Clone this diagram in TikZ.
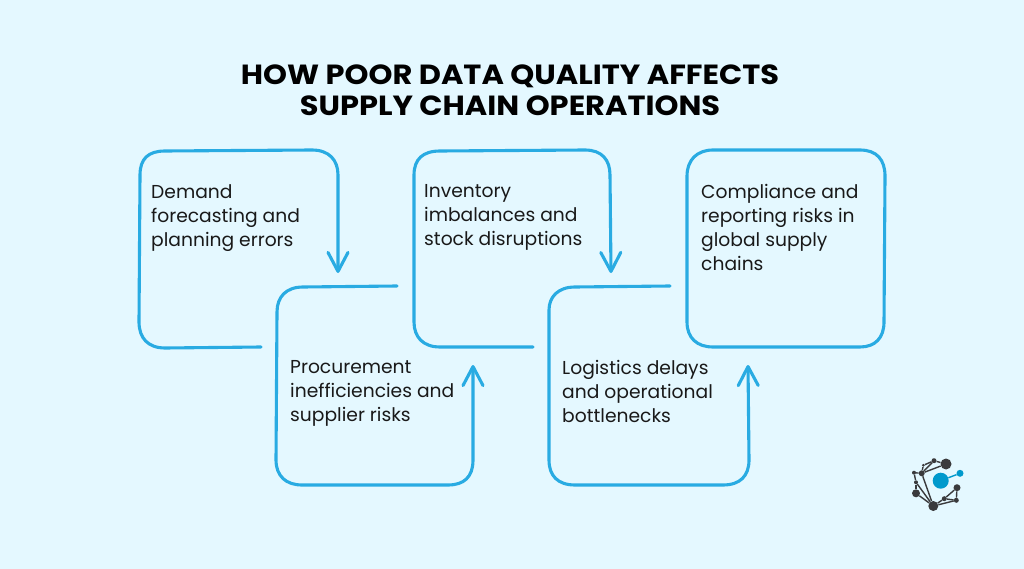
\documentclass[tikz,border=0pt]{standalone}
\usepackage{fontspec}
\setmainfont{Poppins}
\newfontfamily\titlefont[FakeStretch=1.1]{Poppins}
\usepackage{xcolor}
\usetikzlibrary{arrows.meta}
\definecolor{pagebg}{HTML}{E4F8FF}
\definecolor{flowblue}{HTML}{29ABE2}
\definecolor{logoblue}{HTML}{0099CC}
\definecolor{logodark}{HTML}{3A3A3C}
\tikzset{
	flowline/.style={draw=flowblue, line width=3.1pt, line cap=round, line join=round},
	flowarrow/.style={flowline, -{Straight Barb[length=19pt, width=20pt, round]}},
	steptext/.style={anchor=north west, inner sep=0pt, align=left, text=black!90, font=\fontsize{18.7}{24}\selectfont},
	titletext/.style={anchor=center, inner sep=0pt, align=center, text=black, font=\titlefont\bfseries\fontsize{27.7}{31}\selectfont},
	logonode/.style={circle, fill=logodark, inner sep=0pt, minimum size=#1},
	logolink/.style={draw=logodark, line width=1.4pt},
}
\begin{document}
\begin{tikzpicture}[x=1pt, y=-1pt]
		
		\path[fill=pagebg, use as bounding box] (0, 0) rectangle (1024, 569);
		
		\node[titletext] (title) at (510, 90) {HOW POOR DATA QUALITY AFFECTS\\SUPPLY CHAIN OPERATIONS};
		
		\draw[flowarrow] (261, 347) -- (165, 348) .. controls (148, 348) and (139, 338) .. (139, 322) -- (140, 175) .. controls (140, 159) and (148, 151) .. (165, 151) -- (312, 150) .. controls (329, 150) and (338, 160) .. (338, 175) -- (338, 273);
		\draw[flowarrow] (397, 286) -- (303, 287) .. controls (286, 287) and (277, 297) .. (277, 312) -- (276, 460) .. controls (276, 476) and (286, 485) .. (302, 485) -- (448, 485) .. controls (464, 485) and (473, 477) .. (473, 460) -- (473, 365);
		\draw[flowarrow] (533, 347) -- (440, 347) .. controls (423, 347) and (414, 337) .. (414, 322) -- (414, 175) .. controls (414, 159) and (423, 151) .. (440, 151) -- (585, 150) .. controls (602, 150) and (610, 160) .. (610, 175) -- (611, 273);
		\draw[flowarrow] (670, 286) -- (575, 287) .. controls (558, 287) and (549, 297) .. (549, 310) -- (549, 460) .. controls (549, 476) and (558, 485) .. (575, 485) -- (723, 485) .. controls (740, 485) and (749, 476) .. (749, 460) -- (748, 365);
		\draw[flowline] (713, 150) -- (860, 150) .. controls (877, 150) and (885, 160) .. (885, 176) -- (884, 322) .. controls (884, 338) and (875, 347) .. (860, 347) -- (713, 347) .. controls (697, 347) and (687, 338) .. (687, 322) -- (687, 176) .. controls (687, 160) and (697, 150) .. (713, 150) -- cycle;
		
		\node[steptext] (demand) at (151, 184) {Demand\\forecasting and\\planning errors};
		\node[steptext] (procure) at (290, 360) {Procurement\\inefficiencies and\\supplier risks};
		\node[steptext] (stock) at (424, 184) {Inventory\\imbalances and\\stock disruptions};
		\node[steptext] (logistics) at (562, 360) {Logistics delays\\and operational\\bottlenecks};
		\node[steptext] (comply) at (701, 184) {Compliance and\\reporting risks in\\global supply\\chains};
		
		% logo
		\node[logonode=11pt] (la) at (946, 464) {};
		\node[logonode=10pt] (lb) at (933.3, 506) {};
		\node[logonode=8pt] (lc) at (916, 493.3) {};
		\node[logonode=7pt] (ld) at (957, 487.7) {};
		\node[logonode=6pt] (le) at (921.7, 473.3) {};
		\node[logonode=4pt] (lf) at (914, 472.7) {};
		\node[logonode=5pt] (lg) at (934, 460.7) {};
		\node[logonode=3pt] (lh) at (923.3, 465.3) {};
		\node[logonode=4pt] (li) at (916, 482.3) {};
		\node[logonode=5pt] (lj) at (944.3, 498.7) {};
		\node[logonode=5pt] (lk) at (956.3, 500.3) {};
		\foreach \from/\to in {la/lg, lg/le, lg/lh, lh/le, le/lf, le/la, lf/li, li/lb, le/lb, lc/lb, li/lc, lb/lj, lb/lk, lj/lk, lj/ld, ld/lk}
			\draw[logolink] (\from) -- (\to);
		\node[circle, fill=logoblue, inner sep=0pt, minimum size=16pt] (lm) at (940.7, 480.7) {};
		\node[circle, fill=logoblue, inner sep=0pt, minimum size=7pt] (ln) at (960, 473.3) {};
		\draw[draw=logoblue, line width=1.4pt] (lm) -- (ln);
		
	\end{tikzpicture}
\end{document}
